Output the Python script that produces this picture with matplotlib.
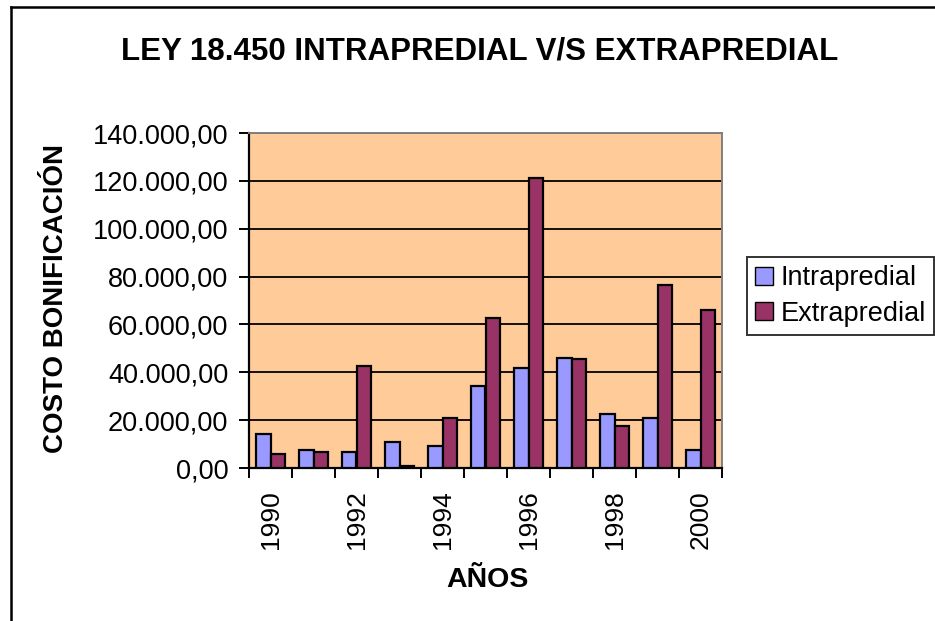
import matplotlib
matplotlib.use("Agg")
import matplotlib.pyplot as plt
from matplotlib.lines import Line2D
from matplotlib.patches import Patch
import numpy as np

years = [1990, 1991, 1992, 1993, 1994, 1995, 1996, 1997, 1998, 1999, 2000]
intrapredial = [14200, 7400, 6700, 10900, 9200, 34300, 41900, 46100, 22600, 20900, 7400]
extrapredial = [6000, 6700, 42600, 700, 20900, 62700, 121400, 45400, 17600, 76400, 66200]
yticks = [0, 20000, 40000, 60000, 80000, 100000, 120000, 140000]
ytick_labels = ["0,00", "20.000,00", "40.000,00", "60.000,00", "80.000,00",
                "100.000,00", "120.000,00", "140.000,00"]

plt.rcParams['font.family'] = ['Liberation Sans', 'DejaVu Sans']

W, H = 935, 621
fig = plt.figure(figsize=(W / 100, H / 100), dpi=100)
fig.patch.set_facecolor('white')

ax = fig.add_axes([249 / W, 1 - 468 / H, (722 - 249) / W, (468 - 133) / H])
ax.set_facecolor('#FFCC99')

x = np.arange(len(years))
bw = 1 / 3
ax.bar(x - bw / 2, intrapredial, bw, color='#9999FF', edgecolor='black', linewidth=1.6,
       label='Intrapredial', zorder=3)
ax.bar(x + bw / 2, extrapredial, bw, color='#993366', edgecolor='black', linewidth=1.6,
       label='Extrapredial', zorder=3)

ax.set_xlim(-0.5, len(years) - 0.5)
ax.set_ylim(0, 140000)
ax.set_yticks(yticks)
ax.set_yticklabels(ytick_labels, fontsize=19.5)
ax.yaxis.grid(True, color='black', linewidth=1.3, zorder=1)
ax.set_axisbelow(True)

# x: labels at every second category centre, ticks at category boundaries
ax.set_xticks(x[::2])
ax.set_xticklabels([str(y) for y in years[::2]], rotation=90, fontsize=19)
ax.set_xticks(np.arange(-0.5, len(years)), minor=True)
ax.tick_params(axis='x', which='major', length=0, pad=16)
ax.tick_params(axis='x', which='minor', length=7, width=1.4, direction='out', color='black')
ax.tick_params(axis='y', which='major', length=7, width=1.4, direction='out', pad=8, color='black')

for s in ['top', 'right']:
    ax.spines[s].set_color('#808080')
    ax.spines[s].set_linewidth(1.4)
for s in ['left', 'bottom']:
    ax.spines[s].set_color('black')
    ax.spines[s].set_linewidth(1.6)

fig.text(480 / W, 1 - 51 / H, 'LEY 18.450 INTRAPREDIAL V/S EXTRAPREDIAL',
         ha='center', va='center', fontsize=22.5, fontweight='bold')
fig.text(56 / W, 1 - 299 / H, 'COSTO BONIFICACIÓN', rotation=90,
         ha='center', va='center', fontsize=20, fontweight='bold')
fig.text(487 / W, 1 - 580 / H, 'AÑOS', ha='center', va='center',
         fontsize=20.5, fontweight='bold')

handles = [Patch(facecolor='#9999FF', edgecolor='black', linewidth=1.0),
           Patch(facecolor='#993366', edgecolor='black', linewidth=1.0)]
leg = fig.legend(handles, ['Intrapredial', 'Extrapredial'],
                 loc='upper left', bbox_to_anchor=(747 / W, 1 - 257 / H),
                 fontsize=19.5, frameon=True, fancybox=False, handlelength=0.65,
                 handleheight=0.65, handletextpad=0.3, borderpad=0.3,
                 labelspacing=0.35, borderaxespad=0)
leg.get_frame().set_edgecolor('black')
leg.get_frame().set_linewidth(1.4)

# outer chart border (top and left visible)
fig.add_artist(Line2D([11 / W, 1.0], [1 - 7 / H, 1 - 7 / H], color='black',
                      linewidth=1.8, transform=fig.transFigure))
fig.add_artist(Line2D([11 / W, 11 / W], [0, 1 - 7 / H], color='black',
                      linewidth=1.8, transform=fig.transFigure))

fig.savefig('out.png', dpi=100)
